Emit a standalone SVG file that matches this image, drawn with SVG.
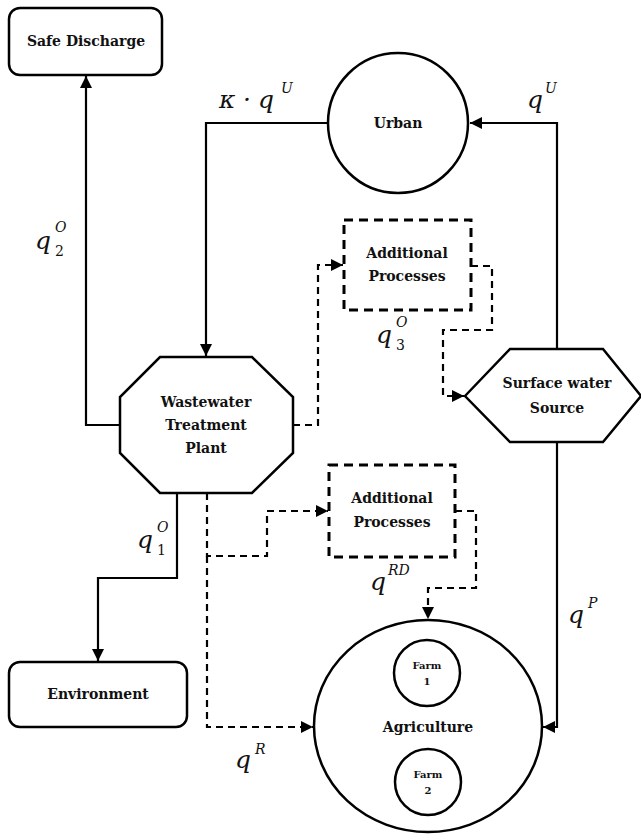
<svg xmlns="http://www.w3.org/2000/svg" width="641" height="834" viewBox="0 0 641 834">
<defs>
<style>
.node{fill:#fff;stroke:#000;stroke-width:2.5}
.dnode{fill:#fff;stroke:#000;stroke-width:3;stroke-dasharray:9 6}
.lbl{font-family:'DejaVu Serif',serif;font-weight:bold;font-size:14px;text-anchor:middle;fill:#111}
.small{font-family:'DejaVu Serif',serif;font-weight:bold;font-size:10px;text-anchor:middle;fill:#111}
.math{font-family:'DejaVu Serif',serif;font-style:italic;font-size:25px;fill:#111}
.sup{font-family:'DejaVu Serif',serif;font-style:italic;font-size:14px;fill:#111}
.sub{font-family:'DejaVu Serif',serif;font-size:14px;fill:#111}
.solid{fill:none;stroke:#000;stroke-width:2.2}
.dash{fill:none;stroke:#000;stroke-width:2.2;stroke-dasharray:7 5}
</style>
<marker id="ah" viewBox="0 0 10 10" refX="10" refY="5" markerWidth="5.5" markerHeight="5.5" orient="auto" markerUnits="strokeWidth">
<path d="M0,0 L10,5 L0,10 z" fill="#000"/>
</marker>
</defs>
<rect width="641" height="834" fill="#fff"/>

<g id="connectors">
<polyline class="solid" points="120,425 86,425 86,76" marker-end="url(#ah)"/>
<polyline class="solid" points="328,123 206,123 206,356" marker-end="url(#ah)"/>
<polyline class="solid" points="557,349 557,123 470,123" marker-end="url(#ah)"/>
<polyline class="solid" points="177,493 177,578 98,578 98,661" marker-end="url(#ah)"/>
<polyline class="solid" points="557,442 557,727 543,727" marker-end="url(#ah)"/>
<polyline class="dash" points="293,425 318,425 318,265 343,265" marker-end="url(#ah)"/>
<polyline class="dash" points="471,266 492,266 492,330 443,330 443,396 464,396" marker-end="url(#ah)"/>
<polyline class="dash" points="207,493 207,556 267,556 267,511 328,511" marker-end="url(#ah)"/>
<polyline class="dash" points="207,556 207,727 313,727" marker-end="url(#ah)"/>
<polyline class="dash" points="455,511 476,511 476,588 428,588 428,619" marker-end="url(#ah)"/>
</g>

<g id="safe-discharge">
<rect class="node" x="9" y="8" width="153" height="67" rx="11"/>
<text class="lbl" x="86" y="46">Safe Discharge</text>
</g>

<g id="urban">
<circle class="node" cx="398" cy="123" r="70"/>
<text class="lbl" x="398" y="128">Urban</text>
</g>

<g id="wwtp">
<polygon class="node" points="160,357 252,357 293,397 293,453 252,493 160,493 120,453 120,397"/>
<text class="lbl" x="206" y="407">Wastewater</text>
<text class="lbl" x="206" y="430">Treatment</text>
<text class="lbl" x="206" y="453">Plant</text>
</g>

<g id="additional-processes-1">
<rect class="dnode" x="344" y="220" width="127" height="90"/>
<text class="lbl" x="407" y="258">Additional</text>
<text class="lbl" x="407" y="281">Processes</text>
</g>

<g id="surface-water">
<polygon class="node" points="465,396 510,349 603,349 641,396 603,442 510,442"/>
<text class="lbl" x="557" y="388">Surface water</text>
<text class="lbl" x="557" y="413">Source</text>
</g>

<g id="additional-processes-2">
<rect class="dnode" x="329" y="465" width="126" height="92"/>
<text class="lbl" x="392" y="503">Additional</text>
<text class="lbl" x="392" y="527">Processes</text>
</g>

<g id="environment">
<rect class="node" x="9" y="662" width="178" height="65" rx="11"/>
<text class="lbl" x="98" y="699">Environment</text>
</g>

<g id="agriculture">
<ellipse class="node" cx="428" cy="726" rx="114" ry="106"/>
<text class="lbl" x="428" y="732">Agriculture</text>
</g>

<g id="farm1">
<circle class="node" cx="427" cy="673" r="33"/>
<text class="small" x="427" y="669">Farm</text>
<text class="small" x="427" y="685">1</text>
</g>

<g id="farm2">
<circle class="node" cx="428" cy="782" r="33"/>
<text class="small" x="428" y="778">Farm</text>
<text class="small" x="428" y="794">2</text>
</g>

<g id="labels">
<text class="math" x="219" y="108">κ</text>
<text class="math" x="243" y="108">·</text>
<text class="math" x="258" y="108">q</text>
<text class="sup" x="281" y="93">U</text>
<text class="math" x="527" y="108">q</text>
<text class="sup" x="545" y="93">U</text>
<text class="math" x="35" y="249">q</text>
<text class="sup" x="55" y="232">O</text>
<text class="sub" x="55" y="256">2</text>
<text class="math" x="376" y="343">q</text>
<text class="sup" x="396" y="327">O</text>
<text class="sub" x="396" y="350">3</text>
<text class="math" x="137" y="548">q</text>
<text class="sup" x="157" y="532">O</text>
<text class="sub" x="157" y="555">1</text>
<text class="math" x="370" y="590">q</text>
<text class="sup" x="388" y="575">RD</text>
<text class="math" x="568" y="623">q</text>
<text class="sup" x="588" y="608">P</text>
<text class="math" x="235" y="768">q</text>
<text class="sup" x="255" y="754">R</text>
</g>
</svg>
